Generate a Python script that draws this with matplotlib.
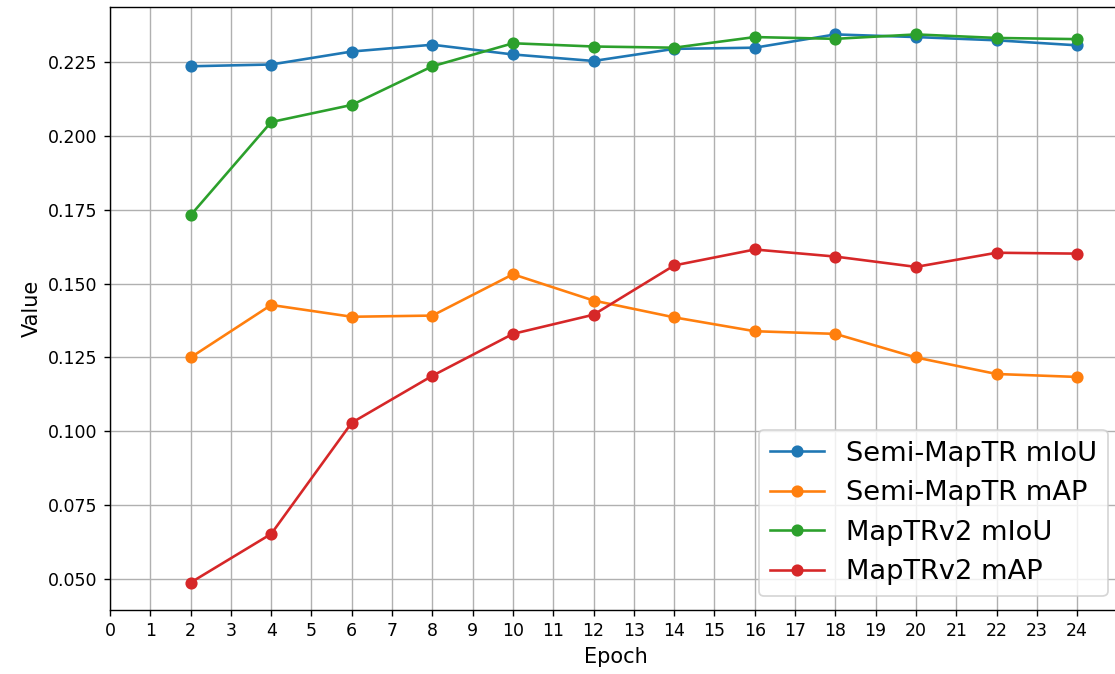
import numpy as np
import matplotlib
matplotlib.use("Agg")
import matplotlib.pyplot as plt

# epochs and metric values
epochs = [2, 4, 6, 8, 10, 12, 14, 16, 18, 20, 22, 24]
semi_miou = [0.2237, 0.2243, 0.2287, 0.2310, 0.2277, 0.2255, 0.2296, 0.2300, 0.2345, 0.2336, 0.2325, 0.2308]
semi_map = [0.1250, 0.1428, 0.1388, 0.1392, 0.1532, 0.1443, 0.1386, 0.1339, 0.1330, 0.1250, 0.1194, 0.1184]
v2_miou = [0.1732, 0.2048, 0.2106, 0.2237, 0.2315, 0.2304, 0.2300, 0.2336, 0.2330, 0.2345, 0.2333, 0.2329]
v2_map = [0.0487, 0.0652, 0.1029, 0.1188, 0.1330, 0.1395, 0.1562, 0.1616, 0.1592, 0.1557, 0.1605, 0.1602]

dpi = 125
fig = plt.figure(figsize=(1115 / dpi, 674 / dpi), dpi=dpi)
ax = fig.add_axes([110 / 1115, 1 - 610 / 674, 1011.5 / 1115, 603 / 674])

ax.plot(epochs, semi_miou, marker='o', label='Semi-MapTR mIoU')
ax.plot(epochs, semi_map, marker='o', label='Semi-MapTR mAP')
ax.plot(epochs, v2_miou, marker='o', label='MapTRv2 mIoU')
ax.plot(epochs, v2_map, marker='o', label='MapTRv2 mAP')

ax.set_xlim(left=0)
ax.set_xticks(range(0, 25))
ax.set_xlabel('Epoch', fontsize=12)
ax.set_ylabel('Value', fontsize=12)
ax.grid(True)
ax.legend(loc='lower right', fontsize=15.7)

fig.savefig('out.png', dpi=dpi)
